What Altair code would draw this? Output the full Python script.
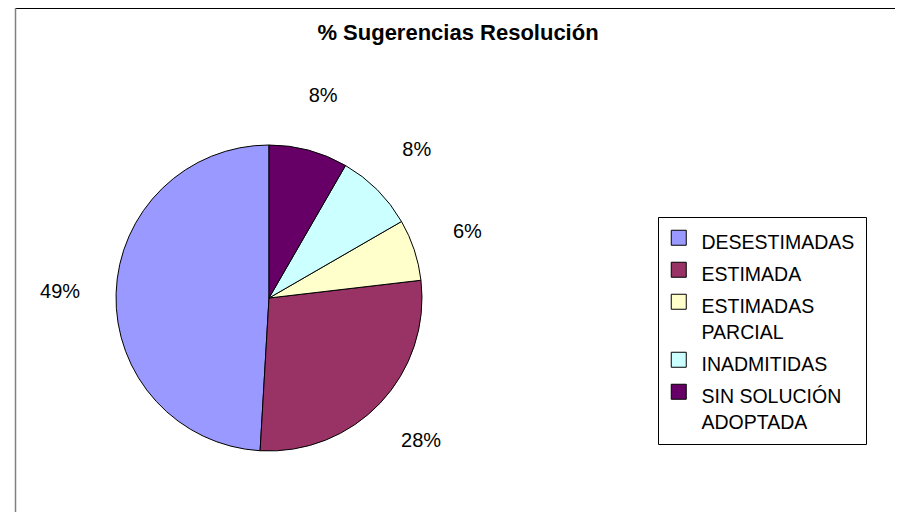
import altair as alt
import pandas as pd

# ---- data ----
categorias = ["DESESTIMADAS", "ESTIMADA", "ESTIMADAS PARCIAL", "INADMITIDAS", "SIN SOLUCIÓN ADOPTADA"]
sugerencias = [53, 30, 7, 9, 9]
orden_horario = [4, 3, 2, 1, 0]          # clockwise drawing order from 12 o'clock
colores = ["#9999FF", "#993366", "#FFFFCC", "#CCFFFF", "#660066"]
titulo = ["% Sugerencias Resolución"]

FONT = "Liberation Sans"
CX, CY, R = 261, 290, 153
W, H = 887, 504

df = pd.DataFrame({"categoria": categorias, "valor": sugerencias, "orden": orden_horario})
base = alt.Chart(df).transform_joinaggregate(total="sum(valor)").transform_calculate(
    pct="datum.valor / datum.total"
)

theta = alt.Theta("valor:Q", stack=True)
order = alt.Order("orden:Q", sort="ascending")

wrap_expr = (
    "length(datum.label) > 14 ? "
    "[slice(datum.label, 0, lastindexof(datum.label, ' ')), "
    "slice(datum.label, lastindexof(datum.label, ' ') + 1)] : datum.label"
)

pie = base.mark_arc(stroke="black", strokeWidth=1, radius=R).encode(
    theta=theta,
    order=order,
    x=alt.value(CX),
    y=alt.value(CY),
    color=alt.Color(
        "categoria:N",
        scale=alt.Scale(domain=categorias, range=colores),
        legend=alt.Legend(
            title=None,
            orient="none",
            legendX=650,
            legendY=209,
            strokeColor="black",
            fillColor="white",
            padding=11,
            symbolType="square",
            symbolSize=225,
            symbolStrokeColor="black",
            symbolStrokeWidth=1,
            symbolOpacity=1,
            labelFont=FONT,
            labelFontSize=19.5,
            labelColor="black",
            labelOffset=13,
            labelBaseline="top",
            rowPadding=7,
            labelLimit=400,
            labelExpr=wrap_expr,
        ),
    ),
)

labels = base.mark_text(font=FONT, fontSize=20, color="black").encode(
    theta=theta,
    order=order,
    x=alt.value(CX),
    y=alt.value(CY),
    radius=alt.value(209),
    text=alt.Text("pct:Q", format=".0%"),
)

title_mark = alt.Chart(pd.DataFrame({"t": titulo})).mark_text(
    font=FONT, fontSize=22, fontWeight="bold", color="black", baseline="alphabetic"
).encode(text="t:N", x=alt.value(450), y=alt.value(32))

one = pd.DataFrame({"a": [0]})
borde_sup = alt.Chart(one).mark_rule(color="black", strokeWidth=1).encode(
    x=alt.value(7), x2=alt.value(W), y=alt.value(0.5), y2=alt.value(0.5)
)
borde_izq = alt.Chart(one).mark_rule(color="#808080", strokeWidth=1.5).encode(
    x=alt.value(7.5), x2=alt.value(7.5), y=alt.value(0), y2=alt.value(H)
)

chart = (
    alt.layer(borde_sup, borde_izq, pie, labels, title_mark)
    .properties(
        width=W,
        height=H,
        padding=0,
        autosize=alt.AutoSizeParams(type="none"),
    )
    .configure(style={"guide-label": {"lineHeight": 26, "dy": -4}})
    .configure_view(stroke=None)
)

chart.save("out.html", embed_options={"renderer": "svg", "actions": False})
